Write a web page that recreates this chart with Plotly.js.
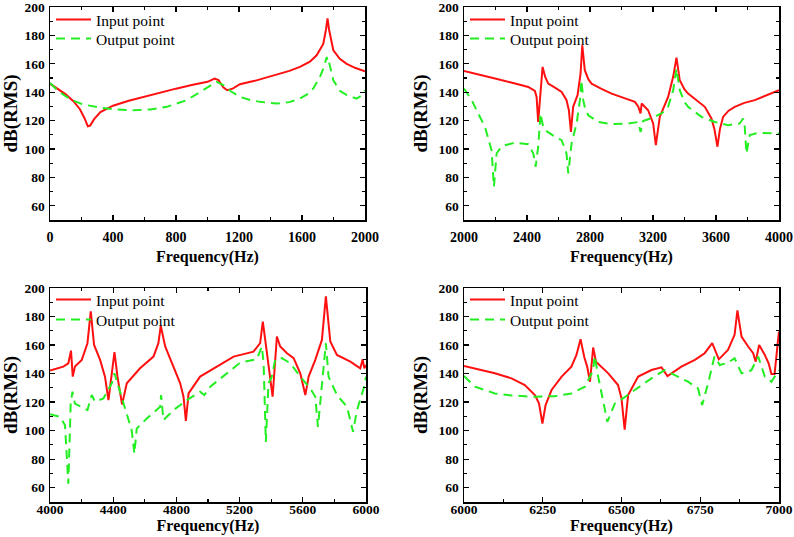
<!DOCTYPE html>
<html>
<head>
<meta charset="utf-8">
<script src="https://cdn.plot.ly/plotly-3.0.1.min.js"></script>
<style>html,body{margin:0;padding:0;background:#fff}#chart{width:794px;height:537px}</style>
</head>
<body>
<div id="chart"></div>
<script>
// ---------- Panel 1 (0-2000 Hz) ----------
var p1InF  = [0,50,100,150,190,220,240,255,280,320,400,500,600,700,800,900,1000,1045,1070,1100,1125,1160,1206,1300,1376,1450,1520,1587,1650,1693,1735,1752,1762,1772,1799,1840,1884,1940,2000];
var p1InDb = [146,142.5,138.5,133.5,128,121.5,116,116.5,121,126,130.5,134,137,139.5,142.5,145,147.3,149.6,148.5,143.5,141.4,142.5,145.6,148,150.3,152.5,155,157.8,161.5,166,174,184,192,184,169.5,163.5,160,157,154.8];
var p1OutF  = [0,50,106,160,212,317,420,529,635,741,868,973,1030,1058,1100,1150,1206,1270,1333,1439,1520,1587,1640,1672,1714,1740,1757,1765,1772,1799,1840,1884,1947,1975,2000];
var p1OutDb = [146.6,141,136.7,133.5,131.3,129.2,127.8,127.3,127.8,129.7,134.4,141.4,145.5,147.3,145,140.5,136.7,134.5,133.2,132,133,135.5,139,142.6,150.8,158,164.8,160,161,148.4,141,137.9,135.5,137.5,141.4];

// ---------- Panel 2 (2000-4000 Hz) ----------
var p2InF  = [2000,2100,2197,2300,2408,2450,2461,2471,2485,2499,2515,2535,2580,2620,2651,2666,2679,2693,2721,2740,2751,2767,2790,2810,2870,2937,3000,3085,3106,3121,3128,3150,3169,3201,3218,3243,3270,3296,3328,3349,3370,3400,3423,3480,3529,3571,3590,3609,3625,3645,3680,3719,3780,3846,3920,4000];
var p2InDb = [155,152.5,149.6,146.8,143.7,140.9,136.7,119,140,157.8,151,146,143,140.2,134.4,127.3,112,129.7,138,153,173,155.5,149,146,142.5,139,136.5,133.2,130,125,132,129.5,127.3,118,102.7,122.6,130.5,136.7,150.8,164.4,148.4,142,139,134,129.7,121.5,114,101.6,114,122.6,127,129.7,132.5,134.4,137.5,141.4];
var p2OutF  = [2000,2049,2090,2133,2175,2190,2207,2230,2260,2323,2408,2440,2455,2471,2486,2500,2514,2550,2577,2620,2651,2662,2683,2715,2736,2746,2757,2770,2789,2852,2937,3042,3106,3121,3137,3211,3260,3296,3328,3349,3370,3400,3423,3508,3592,3677,3751,3772,3782,3793,3814,3867,4000];
var p2OutDb = [142.6,134.4,125,115.6,99.2,73.4,96.8,100.5,102.7,104.4,103.4,96.8,87.5,101.6,125,117,113.3,110.5,108.6,106.2,96.8,82.8,103.9,118,134.4,148.4,134.4,128,123.8,119,117.5,118,119,112,119.7,122.6,125.5,129.7,141.4,156.6,141.4,133,129.7,122.6,119,116.8,118,121.5,116.8,96.8,109.8,111.4,110.9];

// ---------- Panel 3 (4000-6000 Hz) ----------
var p3InF  = [4000,4084,4116,4133,4144,4158,4201,4237,4258,4279,4317,4348,4370,4391,4408,4427,4456,4486,4570,4655,4686,4701,4729,4781,4824,4845,4860,4877,4950,5056,5162,5288,5330,5347,5366,5394,5409,5421,5436,5457,5500,5542,5584,5616,5637,5679,5721,5746,5774,5816,5901,5964,5979,5989,6000];
var p3InDb = [142.1,144.9,147.2,156.1,137.9,144.9,149.6,161.3,183.6,160.1,149.6,137.9,121.4,140.2,155,137.9,118.4,133.2,143.7,151.9,161.3,173.5,159,144.9,133.2,123.8,106.9,126.1,137.9,144.9,151.9,155.4,161.3,176.5,160.1,137.9,123.8,142.5,166,159,154.3,150.8,140.2,125,137.9,149.6,163.6,194.1,162.5,153.1,148.4,143.7,150,143.7,146];
var p3OutF  = [4000,4063,4095,4116,4131,4142,4158,4201,4237,4264,4285,4338,4391,4408,4433,4486,4517,4534,4549,4612,4697,4703,4718,4781,4866,4950,4976,5014,5119,5204,5309,5341,5352,5358,5366,5383,5404,5425,5468,5521,5584,5647,5679,5696,5711,5732,5746,5763,5816,5880,5911,5918,5943,5985,6000];
var p3OutDb = [111.6,109.7,103.8,62.8,119,127.3,119,116.7,114.4,125,120.3,122.6,133.2,140.2,130.8,112,100.3,83.9,101.5,108.5,116.7,125,107.4,114.4,121.4,127.3,125,130.8,140.2,147.7,150,159,147.2,123.8,92.1,133.2,137.9,149.6,150.8,147.2,137.9,129.6,123.8,102.7,119,142.5,161.3,137.9,125,116.7,102.7,99.2,114.4,129.6,137.9];

// ---------- Panel 4 (6000-7000 Hz) ----------
var p4InF  = [6000,6098,6151,6193,6225,6238,6249,6259,6278,6310,6341,6357,6370,6382,6391,6400,6410,6419,6458,6489,6500,6510,6521,6553,6595,6627,6646,6690,6733,6764,6788,6809,6838,6859,6868,6881,6902,6918,6926,6937,6955,6967,6976,6986,6997,7000];
var p4InDb = [145.4,140.2,136.7,132,125,119.1,105,117.9,128.5,137.9,144.9,153.1,164.1,151.5,144.9,134.3,158.3,148.4,140.2,132,122.6,100.8,124.9,137.9,142.5,144.4,138.3,144.9,149.6,154.3,161.3,150,156.6,167.2,184.3,166,159,154.3,148.4,160.1,153.1,147.2,139.7,139.7,163.6,169.5];
var p4OutF  = [6000,6035,6098,6151,6225,6289,6341,6384,6410,6415,6426,6442,6455,6479,6500,6542,6595,6637,6669,6711,6743,6756,6775,6795,6812,6838,6859,6881,6912,6934,6955,6976,7000];
var p4OutDb = [138.3,130.8,126.1,124.7,123.7,124.2,126.1,130.8,142.5,152.4,137.9,119.1,106.2,119.1,121.9,128.5,136.7,142.5,139,134.3,129.6,117.9,133.2,152,146,147.6,150.8,140.2,142.3,151.9,137.9,134.3,142.5];

var legendNames = ['Input point', 'Output point'];
var redC = '#ff1010', greenC = '#22ee22';
var serif = 'Liberation Serif, Times New Roman, serif';

var panels = [
  {inF:p1InF,inDb:p1InDb,outF:p1OutF,outDb:p1OutDb},
  {inF:p2InF,inDb:p2InDb,outF:p2OutF,outDb:p2OutDb},
  {inF:p3InF,inDb:p3InDb,outF:p3OutF,outDb:p3OutDb},
  {inF:p4InF,inDb:p4InDb,outF:p4OutF,outDb:p4OutDb}
];
var xRanges = [[0,2000],[2000,4000],[4000,6000],[6000,7000]];
var xDt = [400,400,400,250];

function lg(n){ return n === 1 ? 'legend' : 'legend' + n; }

var traces = [];
panels.forEach(function(p, i){
  var sfx = i === 0 ? '' : String(i+1);
  traces.push({x:p.inF, y:p.inDb, type:'scatter', mode:'lines', name:legendNames[0],
    xaxis:'x'+sfx, yaxis:'y'+sfx, legend:lg(2*i+1),
    line:{color:redC, width:2}});
  traces.push({x:p.outF, y:p.outDb, type:'scatter', mode:'lines', name:legendNames[1],
    xaxis:'x'+sfx, yaxis:'y'+sfx, legend:lg(2*i+2),
    line:{color:greenC, width:2, dash:'9px,6px'}});
});

var W = 794, H = 537;
var xDom = [[50/W, 365/W],[464/W, 779/W],[50/W, 366/W],[464/W, 779/W]];
var yDom = [[(H-220)/H,(H-7)/H],[(H-220)/H,(H-7)/H],[(H-502)/H,(H-288)/H],[(H-502)/H,(H-288)/H]];
var isBottom = [false,false,true,true];
// pixel tops of the two legend rows for each panel
var legTop = [[3,22],[3,22],[283,303],[283,303]];

var layout = {
  width: W, height: H,
  margin:{l:0,r:0,t:0,b:0},
  paper_bgcolor:'#fff', plot_bgcolor:'#fff',
  showlegend:true,
  font:{family:serif, color:'#000'}
};

for (var i=0;i<4;i++){
  var sfx = i === 0 ? '' : String(i+1);
  layout['xaxis'+sfx] = {
    domain:xDom[i], range:xRanges[i], anchor:'y'+sfx,
    tick0:xRanges[i][0], dtick:xDt[i],
    ticks:'inside', ticklen:5, tickwidth:1.3, tickcolor:'#000',
    minor:{dtick:xDt[i]/2, ticks:'inside', ticklen:3, tickwidth:1.1, tickcolor:'#000'},
    showline:true, linecolor:'#000', linewidth:1.5, mirror:'ticks',
    showgrid:false, zeroline:false,
    tickfont:{family:serif, size: isBottom[i] ? 13.5 : 14, weight:'bold', color:'#000'},
    ticklabeloverflow:'allow',
    ticklabelstandoff: isBottom[i] ? -6 : 4,
    title:{text:'Frequency(Hz)', font:{family:serif, size:16, weight:'bold', color:'#000'}, standoff: isBottom[i] ? 0 : 6}
  };
  layout['yaxis'+sfx] = {
    domain:yDom[i], range:[50,200], anchor:'x'+sfx,
    tick0:0, dtick:20,
    ticks:'inside', ticklen:5, tickwidth:1.3, tickcolor:'#000',
    minor:{dtick:10, ticks:'inside', ticklen:3, tickwidth:1.1, tickcolor:'#000'},
    showline:true, linecolor:'#000', linewidth:1.5, mirror:'ticks',
    showgrid:false, zeroline:false,
    tickfont:{family:serif, size:13.5, weight:'bold', color:'#000'},
    ticklabeloverflow:'allow',
    ticklabelstandoff:1,
    title:{text:'dB(RMS)', font:{family:serif, size:19, weight:'bold', color:'#000'}, standoff: 6}
  };
  for (var r=0;r<2;r++){
    layout[lg(2*i+1+r)] = {
      x:xDom[i][0] + 1/W, y:(H-legTop[i][r])/H, xanchor:'left', yanchor:'top',
      bgcolor:'rgba(0,0,0,0)', borderwidth:0,
      font:{family:serif, size:15.5, color:'#000'},
      itemwidth:35
    };
  }
}

Plotly.newPlot('chart', traces, layout, {staticPlot:true, displayModeBar:false});
</script>
</body>
</html>
